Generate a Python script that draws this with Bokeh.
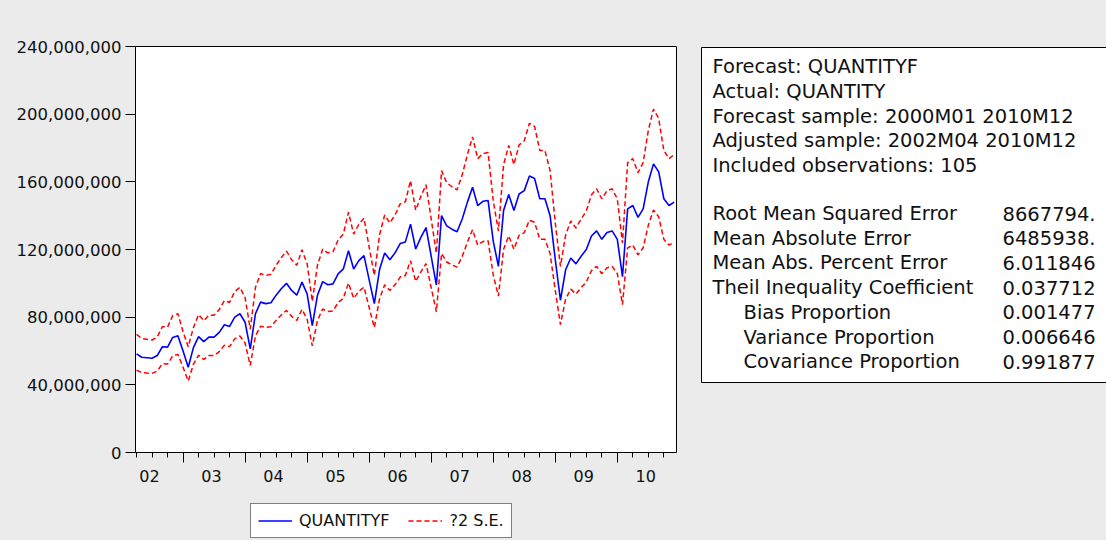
import numpy as np
from bokeh.plotting import figure
from bokeh.layouts import row, column
from bokeh.models import (Range1d, FixedTicker, NumeralTickFormatter, LinearAxis, Label,
                          BoxAnnotation, Legend, LegendItem, ColumnDataSource, CustomJSTickFormatter)
from bokeh.embed import file_html
from bokeh.resources import INLINE

# ---------------- data (millions), 2002M04 .. 2010M12 ----------------
forecast_m = [58.3, 56.3, 56.0, 55.7, 57.3, 62.5, 62.3, 68.0, 69.0, 60.0,
              50.4, 62.0, 68.5, 65.5, 68.2, 68.2, 71.0, 75.5, 74.5, 80.0,
              82.0, 77.0, 61.3, 82.0, 88.9, 88.0, 88.5, 93.0, 96.8, 100.0,
              95.8, 93.0, 100.7, 93.8, 75.0, 93.0, 101.0, 99.2, 99.7, 105.6,
              108.5, 119.3, 108.5, 113.4, 116.4, 102.0, 88.0, 108.0, 118.0, 114.0,
              118.0, 123.5, 124.5, 135.0, 120.3, 127.2, 133.0, 116.0, 99.0, 140.0,
              134.0, 132.0, 130.5, 138.0, 148.0, 156.8, 146.0, 148.5, 149.0, 125.0,
              110.0, 143.0, 152.5, 143.0, 152.8, 154.8, 163.5, 162.0, 150.0, 150.0,
              140.0, 114.0, 90.0, 108.0, 115.0, 111.5, 116.0, 120.0, 128.0, 131.0,
              126.0, 130.0, 131.0, 126.0, 104.0, 144.0, 146.0, 139.0, 144.0, 160.0,
              170.6, 166.0, 150.0, 146.0, 148.0]

upper_m = [69.8, 67.4, 66.9, 66.5, 68.2, 74.4, 74.1, 80.9, 82.1, 71.4,
           62.5, 73.8, 81.5, 77.9, 81.2, 81.2, 84.5, 89.8, 88.7, 95.2,
           97.6, 91.6, 72.9, 97.6, 105.8, 104.7, 105.3, 110.7, 115.2, 119.0,
           114.0, 110.7, 119.8, 111.6, 89.3, 110.7, 120.2, 118.0, 118.6, 125.7,
           129.1, 142.0, 129.1, 134.9, 138.5, 121.4, 104.7, 128.5, 140.4, 135.7,
           140.4, 147.0, 148.2, 160.7, 143.2, 151.4, 158.3, 138.0, 117.8, 166.6,
           159.5, 157.1, 155.3, 164.2, 176.1, 186.6, 173.7, 176.7, 177.3, 148.8,
           130.9, 170.2, 181.5, 170.2, 181.8, 184.2, 194.6, 192.8, 178.5, 178.5,
           166.6, 135.7, 110.0, 128.5, 136.9, 132.7, 138.0, 142.8, 152.3, 155.9,
           149.9, 154.7, 155.9, 149.9, 123.8, 171.4, 173.7, 165.4, 171.4, 190.4,
           203.0, 197.5, 178.5, 173.7, 176.1]

lower_m = [48.7, 47.3, 47.0, 46.8, 48.1, 52.5, 52.3, 57.1, 58.0, 50.4,
           42.3, 52.1, 57.5, 55.0, 57.3, 57.3, 59.6, 63.4, 62.6, 67.2,
           68.9, 64.7, 51.5, 68.9, 74.7, 73.9, 74.3, 78.1, 81.3, 84.0,
           80.5, 78.1, 84.6, 78.8, 63.0, 78.1, 84.8, 83.3, 83.7, 88.7,
           91.1, 100.2, 91.1, 95.3, 97.8, 85.7, 73.9, 90.7, 99.1, 95.8,
           99.1, 103.7, 104.6, 113.4, 101.1, 106.8, 111.7, 97.4, 83.2, 117.6,
           112.6, 110.9, 109.6, 115.9, 124.3, 131.7, 122.6, 124.7, 125.2, 105.0,
           92.4, 120.1, 128.1, 120.1, 128.4, 130.0, 137.3, 136.1, 126.0, 126.0,
           117.6, 95.8, 75.6, 90.7, 96.6, 93.7, 97.4, 100.8, 107.5, 110.0,
           105.8, 109.2, 110.0, 105.8, 87.4, 121.0, 122.6, 116.8, 121.0, 134.4,
           143.3, 139.4, 126.0, 122.6, 124.3]

y_ticks_m = [0, 40, 80, 120, 160, 200, 240]
year_labels = ["02", "03", "04", "05", "06", "07", "08", "09", "10"]
first_month = 4  # 2002M04

header_lines = ["Forecast: QUANTITYF",
                "Actual: QUANTITY",
                "Forecast sample: 2000M01 2010M12",
                "Adjusted sample: 2002M04 2010M12",
                "Included observations: 105"]
stat_names = ["Root Mean Squared Error",
              "Mean Absolute Error",
              "Mean Abs. Percent Error",
              "Theil Inequality Coefficient",
              "Bias Proportion",
              "Variance Proportion",
              "Covariance Proportion"]
stat_values = ["8667794.", "6485938.", "6.011846", "0.037712",
               "0.001477", "0.006646", "0.991877"]
stat_indent = [False, False, False, False, True, True, True]

# ---------------- derived positions ----------------
n = len(forecast_m)
obs = np.arange(n)
offset = 12 - first_month + 1            # index of first January
year_start_idx = list(range(offset, n, 12))
quarter_idx = [i for i in range(0, n, 3) if i not in year_start_idx]
year_label_pos = [offset - 12 + 5.5 + 12 * k for k in range(len(year_labels))]

src = ColumnDataSource(dict(x=obs,
                            f=np.array(forecast_m) * 1e6,
                            up=np.array(upper_m) * 1e6,
                            lo=np.array(lower_m) * 1e6))

FONT = "DejaVu Sans"
TXT = "#111111"
BG = "#EBEBEB"

# ---------------- main chart ----------------
p = figure(width=682, height=498, output_backend="svg", toolbar_location=None,
           x_range=Range1d(-0.2, n - 0.55), y_range=Range1d(0, 240e6),
           x_axis_location=None, y_axis_location=None,
           min_border_left=127, min_border_right=14, min_border_top=46, min_border_bottom=46)
p.background_fill_color = "white"
p.border_fill_color = BG
p.outline_line_color = "black"
p.outline_line_width = 1
p.xgrid.visible = False
p.ygrid.visible = False

yaxis = LinearAxis(ticker=FixedTicker(ticks=[v * 1e6 for v in y_ticks_m]),
                   formatter=NumeralTickFormatter(format="0,0"),
                   major_tick_out=10, major_tick_in=0, minor_tick_out=0, minor_tick_in=0,
                   major_label_standoff=4, major_label_text_font=FONT,
                   major_label_text_font_size="16.5px", major_label_text_color=TXT,
                   axis_line_color="black", major_tick_line_color="black")
p.add_layout(yaxis, "left")

# tick marks: tall at year boundaries, short at quarters
xaxis_ticks = LinearAxis(ticker=FixedTicker(ticks=year_start_idx, minor_ticks=quarter_idx),
                         formatter=CustomJSTickFormatter(code="return ''"),
                         major_tick_out=10, major_tick_in=0, minor_tick_out=5, minor_tick_in=0,
                         major_label_standoff=0, major_label_text_font_size="0px",
                         axis_line_color="black",
                         major_tick_line_color="black", minor_tick_line_color="black")
p.add_layout(xaxis_ticks, "below")

# year labels centred in each year
xaxis_years = LinearAxis(ticker=FixedTicker(ticks=year_label_pos, minor_ticks=[]),
                         major_label_overrides={pos: lab for pos, lab in zip(year_label_pos, year_labels)},
                         major_tick_out=0, major_tick_in=0, minor_tick_out=0, minor_tick_in=0,
                         major_tick_line_color=None, minor_tick_line_color=None,
                         axis_line_color=None, major_label_standoff=7,
                         major_label_text_font=FONT, major_label_text_font_size="16px",
                         major_label_text_color=TXT)
p.add_layout(xaxis_years, "below")

r_up = p.line("x", "up", source=src, line_color="#FF0000", line_width=1.5, line_dash="5 3")
r_lo = p.line("x", "lo", source=src, line_color="#FF0000", line_width=1.5, line_dash="5 3")
r_f = p.line("x", "f", source=src, line_color="#0000FF", line_width=1.6)

# ---------------- legend strip ----------------
pl = figure(width=682, height=42, output_backend="svg", toolbar_location=None,
            x_range=Range1d(0, 1), y_range=Range1d(-2, -1),
            x_axis_location=None, y_axis_location=None,
            min_border_left=0, min_border_right=0, min_border_top=0, min_border_bottom=0)
pl.background_fill_color = BG
pl.border_fill_color = BG
pl.outline_line_color = None
pl.xgrid.visible = False
pl.ygrid.visible = False
lf = pl.line("x", "f", source=src, line_color="#0000FF", line_width=1.6)
lu = pl.line("x", "up", source=src, line_color="#FF0000", line_width=1.5, line_dash="5 3")
legend = Legend(items=[LegendItem(label="QUANTITYF", renderers=[lf]),
                       LegendItem(label="?2 S.E.", renderers=[lu])],
                location=(115, 2), orientation="horizontal",
                border_line_color="black", border_line_width=1,
                background_fill_color="white", background_fill_alpha=1,
                glyph_width=34, glyph_height=17, label_height=17, label_standoff=7,
                spacing=19, padding=7, margin=0,
                label_text_font=FONT, label_text_font_size="16px", label_text_color=TXT)
pl.add_layout(legend)

# ---------------- statistics box ----------------
pb = figure(width=416, height=540, output_backend="svg", toolbar_location=None,
            x_range=Range1d(0, 1), y_range=Range1d(0, 1),
            x_axis_location=None, y_axis_location=None,
            min_border_left=0, min_border_right=0, min_border_top=0, min_border_bottom=0)
pb.background_fill_color = BG
pb.border_fill_color = BG
pb.outline_line_color = None
pb.xgrid.visible = False
pb.ygrid.visible = False

box = BoxAnnotation(left=11, right=600, top=493, bottom=158,
                    left_units="screen", right_units="screen",
                    top_units="screen", bottom_units="screen",
                    fill_color="white", fill_alpha=1, line_color="black", line_width=1,
                    line_alpha=1)
pb.add_layout(box)

line_step = 24.7
x_text = 22
x_indent = 53
x_val = 314
y0 = 473.7
for k, t in enumerate(header_lines):
    pb.add_layout(Label(x=x_text, y=y0 - k * line_step, x_units="screen", y_units="screen",
                        text=t, text_font=FONT, text_font_size="19.5px", text_color=TXT,
                        text_baseline="alphabetic"))
y1 = 327
for k, (nm, vl, ind) in enumerate(zip(stat_names, stat_values, stat_indent)):
    yy = y1 - k * line_step
    pb.add_layout(Label(x=x_indent if ind else x_text, y=yy, x_units="screen", y_units="screen",
                        text=nm, text_font=FONT, text_font_size="19.5px", text_color=TXT,
                        text_baseline="alphabetic"))
    pb.add_layout(Label(x=x_val - 2, y=yy, x_units="screen", y_units="screen",
                        text=vl, text_font=FONT, text_font_size="19.5px", text_color=TXT,
                        text_baseline="alphabetic"))

left_col = column(p, pl, spacing=0, margin=(0, 0, 0, 8), styles={"background-color": BG})
layout = row(left_col, pb, spacing=0, styles={"background-color": BG})

open("out.html", "w").write(file_html(layout, INLINE))
